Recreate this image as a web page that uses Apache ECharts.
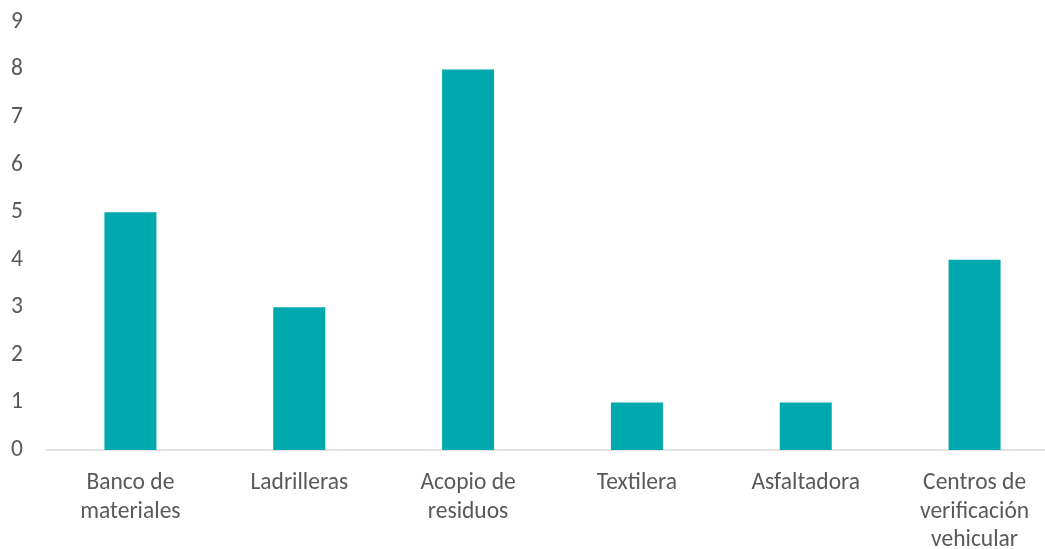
<!DOCTYPE html>
<html><head><meta charset="utf-8">
<script src="https://cdn.jsdelivr.net/npm/echarts@6/dist/echarts.min.js"></script>
<style>html,body{margin:0;padding:0;background:#fff;overflow:hidden;width:1045px;height:549px}#c{width:1059px;height:549px}</style>
</head><body><div id="c"></div>
<script>
const categories = ["Banco de\nmateriales", "Ladrilleras", "Acopio de\nresiduos", "Textilera", "Asfaltadora", "Centros de\nverificación\nvehicular"];
const values = [5, 3, 8, 1, 1, 4];
const yTicks = [0, 1, 2, 3, 4, 5, 6, 7, 8, 9];

const FONT = 'Carlito, "Open Sans", sans-serif';
const chart = echarts.init(document.getElementById('c'));
chart.setOption({
  animation: false,
  grid: { left: 46, right: 0, top: 22, bottom: 99, containLabel: false, outerBoundsMode: 'none' },
  xAxis: {
    type: 'category',
    data: categories,
    axisLine: { lineStyle: { color: '#d9d9d9', width: 1.5 } },
    axisTick: { show: false },
    axisLabel: { color: '#595959', fontSize: 23.5, fontFamily: FONT, lineHeight: 28.5, margin: 19, interval: 0 }
  },
  yAxis: {
    type: 'value',
    min: yTicks[0], max: yTicks[yTicks.length - 1], interval: 1,
    splitLine: { show: false },
    axisLine: { show: false },
    axisTick: { show: false },
    axisLabel: { color: '#595959', fontSize: 23.5, fontFamily: FONT, align: 'left', margin: 35 }
  },
  series: [{
    type: 'bar',
    data: values,
    barWidth: 52,
    itemStyle: { color: '#00A9AD' }
  }]
});
</script></body></html>
